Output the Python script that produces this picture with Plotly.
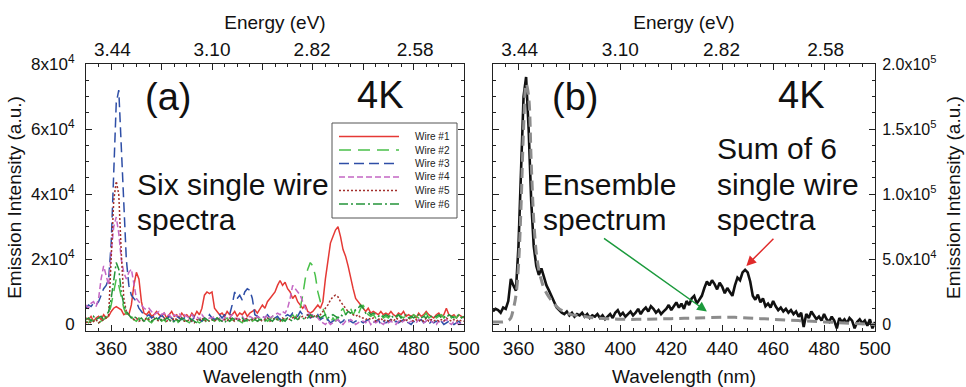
import plotly.graph_objects as go

# ---------------- data (intensities in units of 10^3 counts) ----------------
wavelength = list(range(350, 501))

wire1 = [2,1.5,2.5,1,2,2.5,1.5,3,2,2.5,
         4,5,5.5,5,4.5,3,3.5,3,6,12,
         16,14,7,3.5,3,4,2.5,3,4,3,
         2.5,3.5,2,3,4,2.5,3,2,3.5,2.5,
         3,2,3.5,2.5,4,3,5,9,10,9.5,
         10,5,4,3,3.5,2.5,4,3,3,4,
         2.5,3.5,3,4,2.5,3.5,4,4.5,3.5,5,
         6,5,7,8,9,10,12,13.5,12,13,
         11,10,8,9,7,6,5,6,4,3.5,
         4,5,6,5,7,14,20,25,27,29,
         30,27,23,21,18,14,11,8,7,6,
         5,4,5,3.5,4,3.5,3,4,3,3.5,
         3,4,3,2.5,3.5,3,4,2.5,3,2.5,
         3,2,3.5,2.5,3,4,3,2.5,2,3,
         3.5,2.5,3,5,3,2.5,3,2,3,2.5,
         2]
wire2 = [1,0.5,1.5,1,2,0.5,1,1.5,2,3,
         6,10,14,12,8,5,3,2,2.5,1.5,
         1,2,1.5,1,2,1,0.5,1.5,1,2,
         1,1.5,0.5,1,2,1,1.5,0,1,1.5,
         1,0.5,1.5,2,1,0.5,1,1.5,0.5,1,
         1.5,1,2,1,0.5,1.5,2,1,1.5,1,
         2,1,0.5,1.5,1,2,1,1.5,2.5,1,
         1.5,2,1,1.5,2.5,1,2,1.5,1,2,
         2.5,2,3,2,3.5,5,9,14,17,19,
         18,15,10,7,5,3,1,0.5,2,1,
         3,4,5,3,4,5,3,4.5,3,5,
         6,4,3,2.5,3,2,2.5,3,2,2.5,
         2,3,2.5,2,3,2.5,2,3,2.5,2,
         3,2.5,2,3,2.5,3.5,2,2.5,3,2,
         2.5,3,2,2.5,3,2,2.5,2,3,2.5,
         2]
wire3 = [5,6,5.5,6.5,6,7,9,11,12,14,
         25,50,68,72,55,35,20,12,9,8,
         7,5,4,3,2.5,3,2,2.5,1.5,2,
         3,2,1.5,2.5,2,1,2.5,2,1.5,2,
         1.5,2,1,2.5,2,1.5,1,2,1.5,3,
         2,1.5,2.5,3,2,3,2.5,3,6,10,
         8,9,7.5,10,11,10.5,8,3,2.5,2,
         2.5,2,3,2,1.5,2,2.5,1.5,2,2.5,
         3,2.5,3.5,3,2.5,4,3,2.5,3,2,
         2.5,2,3,1.5,2,1,1.5,0.5,1,2,
         1.5,0.5,1,2,1.5,1,0.5,1,1.5,1,
         0.5,1,1.5,1,0.5,1,1.5,0,1,0.5,
         1,1.5,0.5,1,0.5,1,1.5,1,0.5,0,
         1,0.5,1,1.5,0.5,1,0,1,0.5,1,
         0.5,1,0,0.5,1,0.5,0,0.5,1,0,
         0.5]
wire4 = [6,5,6.5,7,5.5,8,14,18,15,12,
         22,30,33,28,20,16,14,16,17,12,
         8,7,6,5,4.5,5,4,3,3.5,4,
         3,3.5,2.5,3,2,3,2.5,3.5,2,3,
         2.5,2,3,2,2.5,1.5,3,2,1.5,2,
         2,2.5,1.5,2,1,2,2.5,2,3,2,
         1.5,2,2.5,1.5,2,2.5,2,1.5,2.5,2,
         2.5,2,3,2,2.5,3,3.5,3,4,3.5,
         5,8,12,11,10,9,7,5,4,3,
         3,2.5,2,1,0.5,0,1,0,0.5,1,
         1.5,0.5,0,1,0.5,1.5,1,0,0.5,1,
         1,0.5,1.5,0,1,0.5,1,0.5,0,1,
         0.5,1,0.5,0,1,0.5,1,1.5,0.5,1,
         1,0.5,1.5,1,0.5,1,2,1,0.5,0,
         1,0.5,1,1.5,0.5,0,1,0.5,0,0.5,
         0]
wire5 = [0.5,1,0.5,1,1.5,0.5,1,1.5,2,3,
         20,38,44,40,22,8,4,3,2,1.5,
         2,1,1.5,1,2,1.5,1,2,1.5,1,
         1.5,2,1,1.5,1,2,1.5,1,2,1,
         1,1.5,1,0.5,1.5,1,2,1,1.5,1,
         1.5,1,2,1.5,1,1.5,1,2,1.5,1,
         2,1.5,1,1.5,2,1,1.5,2,1,1.5,
         1,1.5,2,1,1.5,2,1.5,1,2,1.5,
         2,1.5,2,2.5,1.5,2,2.5,2,3,2.5,
         2,3,2.5,3,4,5,6,7.5,8.5,9,
         8.5,7,6,5,4,3.5,3,2.5,3,2,
         2,1.5,2,1.5,2,1,1.5,2,1,1.5,
         1,1.5,1,2,1.5,1,1.5,1,2,1.5,
         1,1.5,1,1.5,1,2,1,1.5,1,1.5,
         1,1.5,1,2,1.5,1,1.5,1,1.5,1,
         1]
wire6 = [1.5,2,1,2.5,1.5,2,2.5,1.5,3,4,
         8,14,19,17,10,6,4,3,2,2.5,
         2,1.5,2,1,1.5,2,1,1.5,2,1,
         1.5,1,2,1.5,0.5,1,1.5,1,2,1.5,
         1,2,1.5,1,0.5,1.5,1,2,1.5,1,
         1.5,1,2,1.5,1,0.5,1.5,1,2,1.5,
         1,1.5,2,1,1.5,1,2,1.5,1,1.5,
         1.5,1,2,1.5,1,2,1.5,1,1.5,1,
         2,1.5,1,2,1.5,2.5,2,1.5,2,3,
         2.5,2,3,2,2.5,3,2,2.5,3,2.5,
         2,3,2.5,3,4,3.5,4,4.5,5,6,
         5,3.5,4,3,3.5,3,2.5,3,2.5,3,
         2.5,3,2,2.5,3,2,2.5,3,2,2.5,
         2,2.5,3,2,2.5,2,3,2.5,2,2.5,
         3,2,2.5,2,3,2.5,2,2.5,3,2,
         2.5]

sum_of_six = [10,12,11,9,13,12,18,35,30,26,
              60,120,175,190,150,95,60,45,38,43,
              36,30,26,22,17,13,11,9,8,10,
              7,9,6,8,7,9,6,8,5,7,
              6,8,5,7,4,6,8,5,9,11,
              7,9,6,8,10,7,9,12,8,11,
              13,10,14,12,9,11,8,10,12,15,
              11,14,17,13,16,12,18,15,20,22,
              16,19,22,28,33,30,34,31,27,32,
              29,24,28,25,22,30,36,34,40,42,
              40,33,22,19,23,17,20,14,16,13,
              18,14,11,13,10,12,9,11,8,10,
              6,9,-2,8,5,10,7,4,6,3,
              8,4,2,6,3,-3,5,2,4,1,
              5,3,-3,2,4,1,3,-1,4,-3,
              2]

ensemble_wl = [350,352,354,356,357,358,359,360,361,362,363,364,365,366,367,368,369,370,
               372,374,376,378,380,385,390,395,400,410,420,430,440,445,450,455,460,470,
               480,490,500]
ensemble = [2,2,2,3,5,12,22,45,90,150,185,175,125,80,55,42,34,28,
            21,16,12,10,8,6.5,5,4.5,4,4,4.5,5,5.5,5.5,5,4.5,4,3,
            2,1,0]

series_names = ["Wire #1", "Wire #2", "Wire #3", "Wire #4", "Wire #5", "Wire #6"]
series_values = [wire1, wire2, wire3, wire4, wire5, wire6]

x_ticks = [360, 380, 400, 420, 440, 460, 480, 500]
energy_labels = ["3.44", "3.10", "2.82", "2.58"]
energy_values = [3.44, 3.10, 2.82, 2.58]
left_y_ticks = [0, 20, 40, 60, 80]
left_y_text = ["0", "2x10<sup>4</sup>", "4x10<sup>4</sup>", "6x10<sup>4</sup>", "8x10<sup>4</sup>"]
right_y_ticks = [0, 50, 100, 150, 200]
right_y_text = ["0", "5.0x10<sup>4</sup>", "1.0x10<sup>5</sup>", "1.5x10<sup>5</sup>", "2.0x10<sup>5</sup>"]

# ---------------- styles ----------------
colors = ["#e53935", "#49c04a", "#2e4ea6", "#c467c4", "#a3302c", "#24943a"]
dashes = ["solid", "12px,7px", "10px,5px", "6px,3px", "2px,2px", "9px,3px,2px,3px"]
FONT = "Liberation Sans, Arial, Helvetica, sans-serif"
W, H = 966, 387

fig = go.Figure()
for name, vals, c, d in zip(series_names, series_values, colors, dashes):
    fig.add_trace(go.Scatter(x=wavelength, y=vals, mode="lines", name=name,
                             line=dict(color=c, width=1.5, dash=d),
                             xaxis="x", yaxis="y", showlegend=False))

fig.add_trace(go.Scatter(x=wavelength, y=sum_of_six, mode="lines", name="Sum of 6 single wire spectra",
                         line=dict(color="#111111", width=2.6), xaxis="x2", yaxis="y2", showlegend=False))
fig.add_trace(go.Scatter(x=ensemble_wl, y=ensemble, mode="lines", name="Ensemble spectrum",
                         line=dict(color="#8c8c8c", width=3, dash="10px,6px"), line_shape="spline",
                         xaxis="x2", yaxis="y2", showlegend=False))

def px2x(px):
    return px / W

def px2y(py):
    return 1 - py / H

xd1 = [px2x(86), px2x(464)]
xd2 = [px2x(493), px2x(875)]
yd = [px2y(331), px2y(64)]

tickfont = dict(family=FONT, size=19, color="#111")
axis_common = dict(showline=True, linecolor="#222", linewidth=1, mirror="ticks",
                   ticks="inside", ticklen=6, tickcolor="#222", showgrid=False, zeroline=False)
top_pos = [1240 / e for e in energy_values]

fig.update_layout(
    width=W, height=H, margin=dict(l=0, r=0, t=0, b=0),
    paper_bgcolor="white", plot_bgcolor="white",
    font=dict(family=FONT, color="#111"),
    xaxis=dict(domain=xd1, range=[350, 500], anchor="y", tickvals=x_ticks, tickfont=tickfont,
               minor=dict(dtick=5, ticks="inside", ticklen=3, tickcolor="#222"),
               title=dict(text="Wavelength (nm)", font=dict(family=FONT, size=19), standoff=14),
               automargin=False, **axis_common),
    yaxis=dict(domain=yd, range=[-2, 80], anchor="x", tickvals=left_y_ticks, ticktext=left_y_text,
               tickfont=dict(family=FONT, size=17, color="#111"), ticklabelstandoff=7,
               minor=dict(dtick=5, ticks="inside", ticklen=3, tickcolor="#222"),
               title=dict(text="Emission Intensity (a.u.)", font=dict(family=FONT, size=19), standoff=4),
               automargin=False, **axis_common),
    xaxis3=dict(overlaying="x", side="top", range=[350, 500], anchor="y", tickvals=top_pos,
                ticktext=energy_labels, tickfont=tickfont, ticks="", showline=False, showgrid=False,
                zeroline=False, automargin=False, ticklabelstandoff=3,
                title=dict(text="Energy (eV)", font=dict(family=FONT, size=19), standoff=4)),
    xaxis2=dict(domain=xd2, range=[350, 500], anchor="y2", tickvals=x_ticks, tickfont=tickfont,
                minor=dict(dtick=5, ticks="inside", ticklen=3, tickcolor="#222"),
                title=dict(text="Wavelength (nm)", font=dict(family=FONT, size=19), standoff=14),
                automargin=False, **axis_common),
    yaxis2=dict(domain=yd, range=[-5, 200], anchor="x2", side="right", tickvals=right_y_ticks,
                ticktext=right_y_text, tickfont=dict(family=FONT, size=16, color="#111"),
                ticklabelstandoff=3,
                minor=dict(dtick=12.5, ticks="inside", ticklen=3, tickcolor="#222"),
                title=dict(text="Emission Intensity (a.u.)", font=dict(family=FONT, size=19), standoff=11),
                automargin=False, **axis_common),
    xaxis4=dict(overlaying="x2", side="top", range=[350, 500], anchor="y2", tickvals=top_pos,
                ticktext=energy_labels, tickfont=tickfont, ticks="", showline=False, showgrid=False,
                zeroline=False, automargin=False, ticklabelstandoff=3,
                title=dict(text="Energy (eV)", font=dict(family=FONT, size=19), standoff=4)),
)

# invisible traces so the top (energy) axes render
fig.add_trace(go.Scatter(x=[350], y=[None], xaxis="x3", yaxis="y", showlegend=False, hoverinfo="skip"))
fig.add_trace(go.Scatter(x=[350], y=[None], xaxis="x4", yaxis="y2", showlegend=False, hoverinfo="skip"))

annotations = []

def txt(text, x, y, size, xanchor="center"):
    annotations.append(dict(text=text, x=px2x(x), y=px2y(y), xref="paper", yref="paper",
                            xanchor=xanchor, yanchor="middle", showarrow=False,
                            font=dict(family=FONT, size=size, color="#111")))

# panel (a)
txt("(a)", 168, 97, 38)
txt("4K", 380, 95, 38)
txt("Six single wire", 135, 184, 30, "left")
txt("spectra", 135, 219, 30, "left")
# panel (b)
txt("(b)", 575, 97, 38)
txt("4K", 801, 95, 38)
txt("Ensemble", 541, 184, 30, "left")
txt("spectrum", 541, 219, 30, "left")
txt("Sum of 6", 715, 149, 30, "left")
txt("single wire", 715, 184, 30, "left")
txt("spectra", 715, 219, 30, "left")

# arrows (data coordinates of panel b)
annotations.append(dict(x=434, y=10, ax=393, ay=67, xref="x2", yref="y2", axref="x2", ayref="y2",
                        text="", showarrow=True, arrowhead=2, arrowsize=1.3, arrowwidth=1.5,
                        arrowcolor="#1b9a3c"))
annotations.append(dict(x=449.5, y=45, ax=460.7, ay=67, xref="x2", yref="y2", axref="x2", ayref="y2",
                        text="", showarrow=True, arrowhead=2, arrowsize=1.3, arrowwidth=1.5,
                        arrowcolor="#e02a2a"))

# manual legend for panel (a)
shapes = [dict(type="rect", xref="paper", yref="paper", x0=px2x(332), x1=px2x(457),
               y0=px2y(218), y1=px2y(123), line=dict(color="#555", width=1), fillcolor="white", layer="above")]
legend_y = [136.5, 150, 163.5, 177, 190.5, 204]
for name, c, d, ly in zip(series_names, colors, dashes, legend_y):
    shapes.append(dict(type="line", xref="paper", yref="paper", x0=px2x(339), x1=px2x(399),
                       y0=px2y(ly), y1=px2y(ly), line=dict(color=c, width=1.5, dash=d), layer="above"))
    annotations.append(dict(text=name, x=px2x(413), y=px2y(ly), xref="paper", yref="paper",
                            xanchor="left", yanchor="middle", showarrow=False,
                            font=dict(family=FONT, size=10, color="#222")))

fig.update_layout(annotations=annotations, shapes=shapes)
fig.write_html("out.html", config={"displayModeBar": False},
               post_script="document.body.style.margin='0px';")
